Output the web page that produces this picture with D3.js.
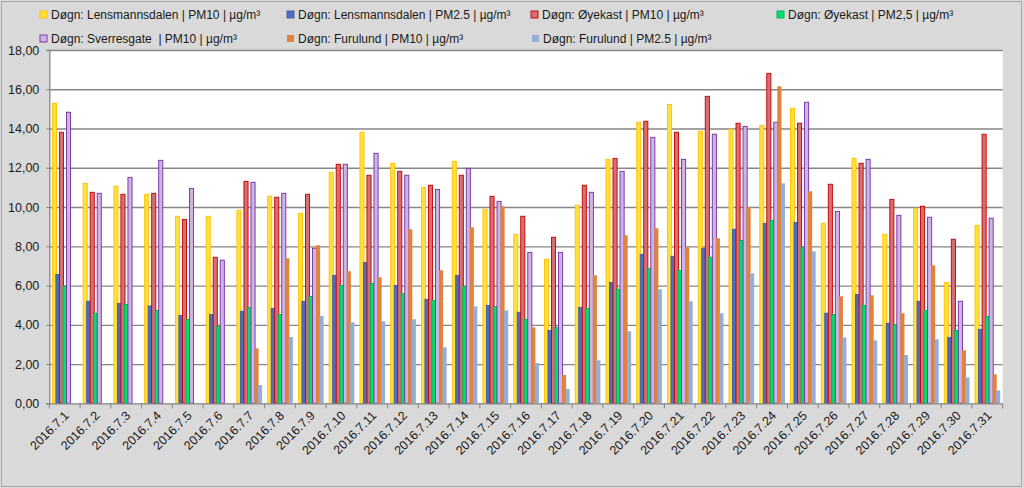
<!DOCTYPE html>
<html><head><meta charset="utf-8">
<script src="https://cdn.jsdelivr.net/npm/d3@7"></script>
<style>body{margin:0;background:#d9d9d9;}svg{display:block;}</style>
</head><body>
<svg id="c" width="1024" height="488"></svg>
<script>
const days = d3.range(1,32).map(d => "2016.7." + d);
const seriesNames = [
 "Døgn: Lensmannsdalen | PM10 | µg/m³",
 "Døgn: Lensmannsdalen | PM2.5 | µg/m³",
 "Døgn: Øyekast | PM10 | µg/m³",
 "Døgn: Øyekast | PM2,5 | µg/m³",
 "Døgn: Sverresgate  | PM10 | µg/m³",
 "Døgn: Furulund | PM10 | µg/m³",
 "Døgn: Furulund | PM2.5 | µg/m³"
];
const lensPM10 = [15.28,11.21,11.06,10.65,9.53,9.53,9.83,10.55,9.68,11.77,13.81,12.23,11.00,12.33,9.88,8.61,7.34,10.09,12.43,14.32,15.23,13.86,13.96,14.16,15.03,9.17,12.48,8.61,9.94,6.16,9.07];
const lensPM25 = [6.57,5.20,5.09,4.96,4.48,4.53,4.69,4.84,5.20,6.52,7.18,6.01,5.30,6.52,4.99,4.64,3.72,4.89,6.16,7.59,7.49,7.90,8.87,9.17,9.22,4.59,5.55,4.08,5.20,3.36,3.77];
const oyePM10 = [13.81,10.75,10.65,10.70,9.37,7.44,11.31,10.50,10.65,12.18,11.62,11.82,11.11,11.62,10.55,9.53,8.46,11.11,12.48,14.37,13.81,15.64,14.27,16.81,14.27,11.16,12.23,10.39,10.04,8.36,13.71];
const oyePM25 = [5.98,4.59,5.04,4.74,4.28,3.92,4.89,4.53,5.45,6.01,6.11,5.60,5.25,5.96,4.94,4.28,3.87,4.84,5.81,6.88,6.78,7.44,8.30,9.32,7.95,4.53,4.99,4.02,4.74,3.72,4.43];
const sverPM10 = [14.83,10.70,11.51,12.38,10.95,7.29,11.26,10.70,7.90,12.18,12.74,11.62,10.90,11.97,10.29,7.69,7.69,10.75,11.82,13.55,12.43,13.71,14.11,14.32,15.34,9.78,12.43,9.58,9.48,5.20,9.43];
const furuPM10 = [null,null,null,null,null,null,2.80,7.39,8.05,6.73,6.42,8.87,6.78,8.97,10.04,3.87,1.44,6.52,8.56,8.92,7.95,8.41,9.99,16.15,10.80,5.45,5.50,4.59,7.03,2.70,1.48];
const furuPM25 = [null,null,null,null,null,null,0.93,3.38,4.45,4.13,4.18,4.28,2.85,4.94,4.74,2.05,0.73,2.19,3.67,5.81,5.20,4.59,6.62,11.21,7.74,3.36,3.21,2.46,3.26,1.32,0.66];
const yTicks = [0,2,4,6,8,10,12,14,16,18];

const seriesValues = [lensPM10, lensPM25, oyePM10, oyePM25, sverPM10, furuPM10, furuPM25];
const fills   = ["#ffe03c","#4f6cbf","#d86e70","#00e070","#d0b3e6","#e0843c","#95aed6"];
const strokes = ["#ffc000","#3f5cae","#c00000","#00b050","#7030a0",null,null];

const svg = d3.select("#c");
const m = {l:49.3, r:1002.7, t:50, b:403.3};

// outer border
svg.append("rect").attr("x",1.5).attr("y",1.5).attr("width",1020).attr("height",485)
  .attr("fill","#d9d9d9").attr("stroke","#a6a6a6");

// plot area
svg.append("rect").attr("x",m.l).attr("y",m.t).attr("width",m.r-m.l).attr("height",m.b-m.t).attr("fill","#fff");

const x0 = d3.scaleBand().domain(days).range([m.l,m.r]).paddingInner(0.2).paddingOuter(0.1);
const x1 = d3.scaleBand().domain(d3.range(7)).range([0,x0.bandwidth()]);
const y = d3.scaleLinear().domain([0,18]).range([m.b,m.t]);

// gridlines
svg.append("g").selectAll("line").data(yTicks.filter(t=>t>0)).join("line")
  .attr("x1",m.l).attr("x2",m.r).attr("y1",d=>y(d)+0.5).attr("y2",d=>y(d)+0.5)
  .attr("stroke","#868686").attr("stroke-width",1.3);

// bars
const groups = svg.append("g").selectAll("g").data(days).join("g")
  .attr("transform",d=>`translate(${x0(d)},0)`);
groups.each(function(day,i){
  const g = d3.select(this);
  seriesValues.forEach((vals,s)=>{
    const v = vals[i];
    if (v==null) return;
    const r = g.append("rect")
      .attr("x",x1(s)).attr("width",x1.bandwidth()+0.6)
      .attr("y",y(v)).attr("height",y(0)-y(v))
      .attr("fill",fills[s]);
    if (strokes[s]) r.attr("stroke",strokes[s]).attr("stroke-width",0.9);
  });
});

// y axis
const yAxis = d3.axisLeft(y).tickValues(yTicks).tickSize(3).tickFormat(d=>d3.format(".2f")(d).replace(".",","));
const ya = svg.append("g").attr("transform",`translate(${m.l},0)`).call(yAxis);
ya.select(".domain").attr("stroke","#868686").attr("stroke-width",1.3);
ya.selectAll(".tick line").attr("stroke","#868686");
ya.selectAll("text").attr("font-family","Liberation Sans, Arial, sans-serif").attr("font-size",12.5).attr("fill","#1a1a1a").attr("x",-10);

// x axis
const xa = svg.append("g").attr("transform",`translate(0,${m.b})`);
xa.append("line").attr("x1",m.l).attr("x2",m.r).attr("y1",0.5).attr("y2",0.5).attr("stroke","#868686").attr("stroke-width",1.3);
const step = (m.r-m.l)/days.length;
xa.selectAll(".tk").data(d3.range(days.length+1)).join("line")
  .attr("x1",i=>m.l+i*step).attr("x2",i=>m.l+i*step).attr("y1",0).attr("y2",5).attr("stroke","#868686");
xa.selectAll(".lbl").data(days).join("text")
  .attr("transform",d=>`translate(${x0(d)+x0.bandwidth()/2+5},${13}) rotate(-45)`)
  .attr("text-anchor","end")
  .attr("font-family","Liberation Sans, Arial, sans-serif").attr("font-size",12.5).attr("fill","#1a1a1a")
  .text(d=>d);

// legend
const legPos = [[40,15],[287,15],[531,15],[777,15],[40,39],[287,39],[532,39]];
const leg = svg.append("g");
seriesNames.forEach((n,s)=>{
  const [lx,ly] = legPos[s];
  const r = leg.append("rect").attr("x",lx).attr("y",ly-4).attr("width",7).attr("height",7).attr("fill",fills[s]);
  if (strokes[s]) r.attr("stroke",strokes[s]).attr("stroke-width",0.9);
  leg.append("text").attr("x",lx+11).attr("y",ly+4).attr("font-family","Liberation Sans, Arial, sans-serif")
    .attr("font-size",12).attr("fill","#1a1a1a").attr("xml:space","preserve").style("white-space","pre").text(n);
});
</script>
</body></html>
